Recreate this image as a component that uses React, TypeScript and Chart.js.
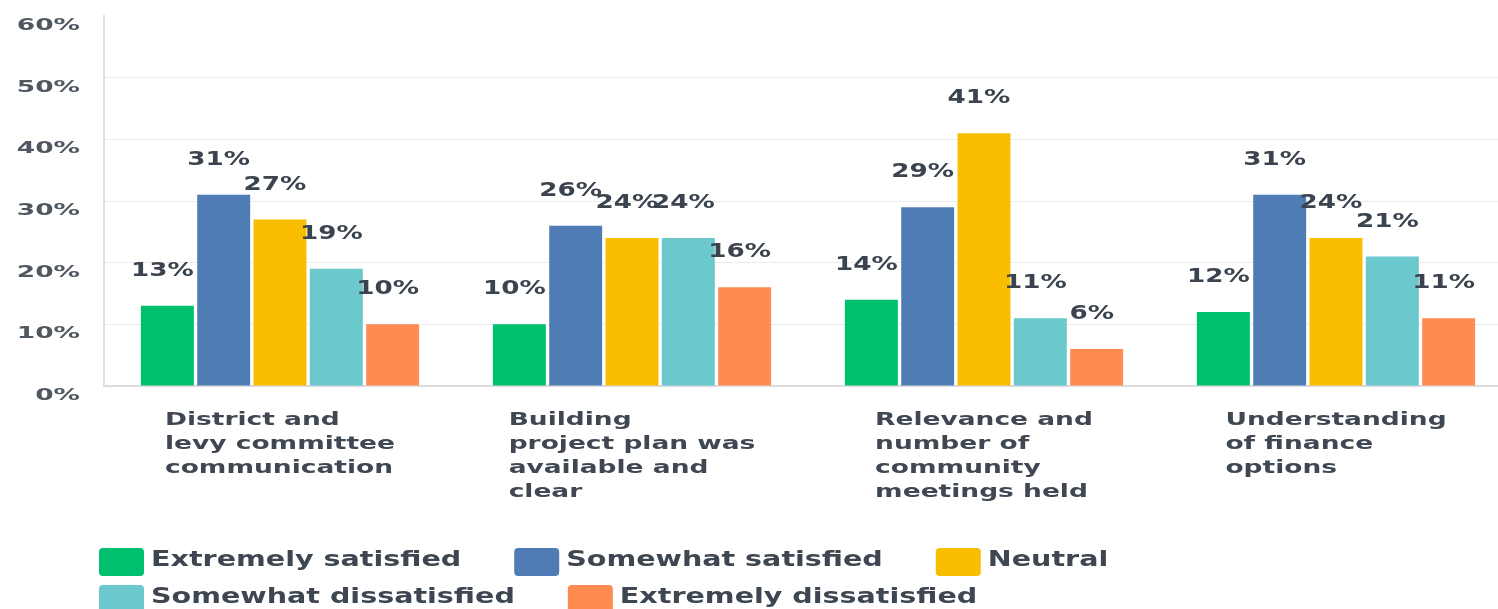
import React, { useEffect, useRef } from "react";
import { Chart, registerables } from "chart.js";

Chart.register(...registerables);

const categories: string[][] = [
  ["District and", "levy committee", "communication"],
  ["Building", "project plan was", "available and", "clear"],
  ["Relevance and", "number of", "community", "meetings held"],
  ["Understanding", "of finance", "options"],
];

const seriesNames = [
  "Extremely satisfied",
  "Somewhat satisfied",
  "Neutral",
  "Somewhat dissatisfied",
  "Extremely dissatisfied",
];

const extremelySatisfied = [13, 10, 14, 12];
const somewhatSatisfied = [31, 26, 29, 31];
const neutral = [27, 24, 41, 24];
const somewhatDissatisfied = [19, 24, 11, 21];
const extremelyDissatisfied = [10, 16, 6, 11];

const seriesColors = ["#00BF6F", "#507CB6", "#F9BE00", "#6BC8CD", "#FF8B4F"];

const yMin = 0;
const yMax = 60;
const yStep = 10;

const legendRows = [
  [0, 1, 2],
  [3, 4],
];

const FONT = '"DejaVu Sans", sans-serif';

function textS(ctx: CanvasRenderingContext2D, text: string, x: number, y: number, align: CanvasTextAlign, sx: number) {
  ctx.save();
  ctx.translate(x, y);
  ctx.scale(sx, 1);
  ctx.textAlign = align;
  ctx.fillText(text, 0, 0);
  ctx.restore();
}

function widthS(ctx: CanvasRenderingContext2D, text: string, sx: number) {
  return ctx.measureText(text).width * sx;
}

const textPlugin = {
  id: "customText",
  afterDraw(chart: any) {
    const ctx: CanvasRenderingContext2D = chart.ctx;
    const area = chart.chartArea;
    const ys = chart.scales.y;
    const xs = chart.scales.x;
    ctx.save();
    ctx.textBaseline = "alphabetic";

    // y tick labels
    ctx.font = `bold 16px ${FONT}`;
    ctx.fillStyle = "#4f5761";
    ys.ticks.forEach((t: any) => {
      const py = ys.getPixelForValue(t.value);
      textS(ctx, `${t.value}%`, 80, py + 14, "right", 1.65);
    });

    // x category labels (block centred, lines left-aligned)
    ctx.font = `bold 18px ${FONT}`;
    ctx.fillStyle = "#3f4852";
    (chart.data.labels as string[][]).forEach((lines, i) => {
      const cx = xs.getPixelForValue(i);
      const w = Math.max(...lines.map((l) => widthS(ctx, l, 1.47)));
      const left = cx - w / 2;
      lines.forEach((l, j) => {
        textS(ctx, l, left, area.bottom + 39 + j * 24, "left", 1.47);
      });
    });

    // value labels
    ctx.font = `bold 19px ${FONT}`;
    ctx.fillStyle = "#3a434e";
    chart.data.datasets.forEach((ds: any, di: number) => {
      const meta = chart.getDatasetMeta(di);
      meta.data.forEach((el: any, i: number) => {
        textS(ctx, `${ds.data[i]}%`, el.x - 5, el.y - 30, "center", 1.38);
      });
    });

    // legend
    ctx.font = `bold 21px ${FONT}`;
    const boxW = 45;
    const boxH = 28;
    const rowTops = [548, 585];
    legendRows.forEach((row, r) => {
      let x = 99;
      const top = rowTops[r];
      row.forEach((di) => {
        const ds = chart.data.datasets[di];
        ctx.fillStyle = ds.backgroundColor;
        ctx.beginPath();
        if ((ctx as any).roundRect) (ctx as any).roundRect(x, top, boxW, boxH, 4);
        else ctx.rect(x, top, boxW, boxH);
        ctx.fill();
        const tx = x + boxW + 7;
        ctx.fillStyle = "#3e4751";
        textS(ctx, ds.label, tx, top + 18, "left", 1.36);
        x = tx + widthS(ctx, ds.label, 1.36) + 53;
      });
    });

    ctx.restore();
  },
};

export default function App() {
  const canvasRef = useRef<HTMLCanvasElement | null>(null);

  useEffect(() => {
    if (!canvasRef.current) return;
    const series = [
      extremelySatisfied,
      somewhatSatisfied,
      neutral,
      somewhatDissatisfied,
      extremelyDissatisfied,
    ];
    const chart = new Chart(canvasRef.current, {
      type: "bar",
      data: {
        labels: categories,
        datasets: series.map((d, i) => ({
          label: seriesNames[i],
          data: d,
          backgroundColor: seriesColors[i],
          borderWidth: 0,
          categoryPercentage: 0.8,
          barPercentage: 0.94,
        })),
      },
      options: {
        responsive: false,
        animation: false,
        devicePixelRatio: 1,
        layout: { padding: { top: 16, left: 0, right: 0, bottom: 0 } },
        plugins: {
          legend: { display: false },
          tooltip: { enabled: false },
        },
        scales: {
          x: {
            type: "category",
            grid: { display: false, drawTicks: false },
            border: { display: true, color: "#dcdcdc", width: 2 },
            ticks: { display: false },
            afterFit: (s: any) => {
              s.height = 223;
            },
          },
          y: {
            min: yMin,
            max: yMax,
            ticks: { display: false, stepSize: yStep },
            grid: {
              drawTicks: false,
              color: (c: any) => (c.tick && c.tick.value === yMax ? "rgba(0,0,0,0)" : "#ececec"),
              lineWidth: 1,
            },
            border: { display: true, color: "#dedede", width: 2 },
            afterFit: (s: any) => {
              s.width = 104;
            },
          },
        },
      },
      plugins: [textPlugin],
    });
    return () => chart.destroy();
  }, []);

  return (
    <div
      style={{
        position: "fixed",
        left: 0,
        top: 0,
        width: 1498,
        height: 609,
        overflow: "hidden",
        background: "#ffffff",
      }}
    >
      <canvas ref={canvasRef} width={1512} height={609} style={{ display: "block" }} />
    </div>
  );
}
